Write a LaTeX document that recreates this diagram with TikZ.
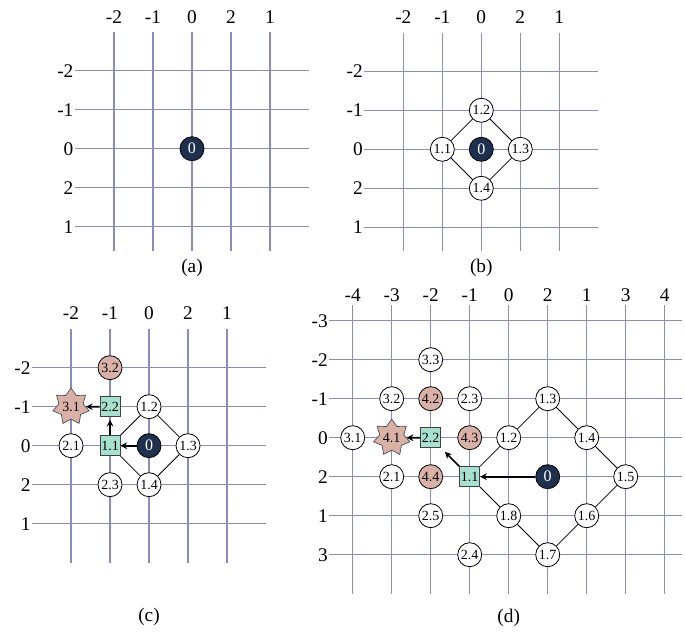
\documentclass[tikz,border=0pt]{standalone}
\usepackage{fontspec}
\setmainfont{Liberation Serif}
\usetikzlibrary{shapes.geometric,arrows.meta}

\definecolor{gridc}{RGB}{140,140,188}
\definecolor{navy}{RGB}{30,48,78}
\definecolor{rose}{RGB}{217,177,166}
\definecolor{mint}{RGB}{166,224,207}

\tikzset{
  gl/.style={gridc, line width=0.8pt},
  ax/.style={font=\fontsize{14.5}{14.5}\selectfont, inner sep=1pt},
  pt/.style={circle, draw, fill=white, line width=0.6pt, minimum size=18pt, inner sep=0pt, font=\fontsize{10.5}{10.5}\selectfont},
  src/.style={pt, fill=navy, text=white, font=\fontsize{12}{12}\selectfont},
  hot/.style={pt, fill=rose},
  sq/.style={rectangle, draw=black!75, fill=mint, line width=0.6pt, minimum size=15pt, inner sep=0pt, font=\fontsize{10.5}{10.5}\selectfont},
  goal/.style={star, star points=7, star point ratio=1.5, draw=black!70, fill=rose, line width=0.5pt, inner sep=0pt, font=\fontsize{10.5}{10.5}\selectfont},
  lnk/.style={line width=0.6pt},
  mv/.style={-{Stealth[length=5pt,width=5pt]}, line width=1.3pt},
}

\begin{document}
\begin{tikzpicture}[x=29.25pt,y=-29.25pt]
\useasboundingbox (0,0) rectangle (17.564,16.231);

% (a) start
\begin{scope}[shift={(2.923,1.813)}]
  \foreach \t [count=\i from 0] in {-2,-1,0,2,1} {
    \draw[gl] (\i,-0.99) -- (\i,4.62);
    \node[ax] (ac\i) at (\i,-1.38) {\t};
  }
  \foreach \t [count=\j from 0] in {-2,-1,0,2,1} {
    \draw[gl] (-1,\j) -- (5,\j);
    \node[ax, anchor=east] (ar\j) at (-1,\j) {\t};
  }
  \node[src] (a0) at (2,2) {0};
  \node[ax] (acap) at (2,5.06) {(a)};
\end{scope}

% (b) first ring
\begin{scope}[shift={(10.341,1.828)}]
  \foreach \t [count=\i from 0] in {-2,-1,0,2,1} {
    \draw[gl] (\i,-0.99) -- (\i,4.62);
    \node[ax] (bc\i) at (\i,-1.38) {\t};
  }
  \foreach \t [count=\j from 0] in {-2,-1,0,2,1} {
    \draw[gl] (-1,\j) -- (5,\j);
    \node[ax, anchor=east] (br\j) at (-1,\j) {\t};
  }
  \node[src] (b0) at (2,2) {0};
  \node[pt] (b11) at (1,2) {1.1};
  \node[pt] (b12) at (2,1) {1.2};
  \node[pt] (b13) at (3,2) {1.3};
  \node[pt] (b14) at (2,3) {1.4};
  \draw[lnk] (b11) -- (b12) -- (b13) -- (b14) -- (b11);
  \node[ax] (bcap) at (2,5.04) {(b)};
\end{scope}

% (c) path found
\begin{scope}[shift={(1.821,9.428)}]
  \foreach \t [count=\i from 0] in {-2,-1,0,2,1} {
    \draw[gl] (\i,-0.98) -- (\i,5);
    \node[ax] (cc\i) at (\i,-1.40) {\t};
  }
  \foreach \t [count=\j from 0] in {-2,-1,0,2,1} {
    \draw[gl] (-1,\j) -- (5,\j);
    \node[ax, anchor=east] (cr\j) at (-1,\j) {\t};
  }
  \node[hot] (c32) at (1,0) {3.2};
  \node[goal] (c31) at (0,1) {3.1};
  \node[sq] (c22) at (1,1) {2.2};
  \node[pt] (c12) at (2,1) {1.2};
  \node[pt] (c21) at (0,2) {2.1};
  \node[sq] (c11) at (1,2) {1.1};
  \node[src] (c0) at (2,2) {0};
  \node[pt] (c13) at (3,2) {1.3};
  \node[pt] (c23) at (1,3) {2.3};
  \node[pt] (c14) at (2,3) {1.4};
  \draw[lnk] (c11) -- (c12) -- (c13) -- (c14) -- (c11);
  \draw[mv] (c0) -- (c11);
  \draw[mv, shorten >=2pt] (c11) -- (c22);
  \draw[mv] (c22) -- (c31);
  \node[ax] (ccap) at (2,6.39) {(c)};
\end{scope}

% (d) wider search
\begin{scope}[shift={(9.044,8.223)}]
  \foreach \t [count=\i from 0] in {-4,-3,-2,-1,0,2,1,3,4} {
    \draw[gl] (\i,-0.4) -- (\i,7);
    \node[ax] (dc\i) at (\i,-0.66) {\t};
  }
  \foreach \t [count=\j from 0] in {-3,-2,-1,0,2,1,3} {
    \draw[gl] (-0.6,\j) -- (8.45,\j);
    \node[ax, anchor=east] (dr\j) at (-0.6,\j) {\t};
  }
  \node[pt] (d33) at (2,1) {3.3};
  \node[pt] (d32) at (1,2) {3.2};
  \node[hot] (d42) at (2,2) {4.2};
  \node[pt] (d23) at (3,2) {2.3};
  \node[pt] (d13) at (5,2) {1.3};
  \node[pt] (d31) at (0,3) {3.1};
  \node[goal] (d41) at (1,3) {4.1};
  \node[sq] (d22) at (2,3) {2.2};
  \node[hot] (d43) at (3,3) {4.3};
  \node[pt] (d12) at (4,3) {1.2};
  \node[pt] (d14) at (6,3) {1.4};
  \node[pt] (d21) at (1,4) {2.1};
  \node[hot] (d44) at (2,4) {4.4};
  \node[sq] (d11) at (3,4) {1.1};
  \node[src] (d0) at (5,4) {0};
  \node[pt] (d15) at (7,4) {1.5};
  \node[pt] (d25) at (2,5) {2.5};
  \node[pt] (d18) at (4,5) {1.8};
  \node[pt] (d16) at (6,5) {1.6};
  \node[pt] (d24) at (3,6) {2.4};
  \node[pt] (d17) at (5,6) {1.7};
  \draw[lnk] (d11) -- (d12) -- (d13) -- (d14) -- (d15) -- (d16) -- (d17) -- (d18) -- (d11);
  \draw[mv] (d0) -- (d11);
  \draw[mv, shorten >=4pt] (d11) -- (d22);
  \draw[mv] (d22) -- (d41);
  \node[ax] (dcap) at (4,7.62) {(d)};
\end{scope}

\end{tikzpicture}
\end{document}
